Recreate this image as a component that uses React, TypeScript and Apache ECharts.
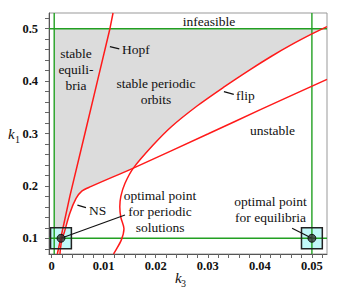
import React, { useEffect, useRef } from "react";
import * as echarts from "echarts";

// ---- data ----
const X_MIN = -0.0005;
const X_MAX = 0.0529;
const Y_MIN = 0.07;
const Y_MAX = 0.53;

const xTickLabels = [0, 0.01, 0.02, 0.03, 0.04, 0.05];
const yTickLabels = [0.1, 0.2, 0.3, 0.4, 0.5];
const xMinorStep = 0.002;
const yMinorStep = 0.02;

// Hopf boundary (k3, k1)
const hopf: number[][] = [
  [0.0011, 0.07], [0.0035, 0.18], [0.0064, 0.3], [0.0088, 0.4], [0.0112, 0.5], [0.0118, 0.53],
];
// Neimark–Sacker boundary
const ns: number[][] = [
  [0.0016, 0.07], [0.0017, 0.08], [0.002, 0.1], [0.0024, 0.11], [0.0035, 0.148],
  [0.0047, 0.176], [0.0058, 0.19], [0.0075, 0.1985], [0.0157, 0.234], [0.03, 0.299],
  [0.04, 0.345], [0.0529, 0.4034],
];
// flip boundary
const flip: number[][] = [
  [0.0119, 0.07], [0.0122, 0.075], [0.0134, 0.097], [0.0139, 0.118], [0.0133, 0.14],
  [0.0131, 0.16], [0.0133, 0.18], [0.0141, 0.205], [0.0157, 0.234], [0.0195, 0.278],
  [0.023, 0.313], [0.028, 0.353], [0.033, 0.388], [0.038, 0.421], [0.042, 0.446],
  [0.046, 0.469], [0.05, 0.49], [0.0529, 0.504],
];
// feasibility limits (green lines)
const limitK1 = [0.1, 0.5];
const limitK3 = [0.0005, 0.05];
// optimal points and their boxes
const optimalPoints: number[][] = [[0.0018, 0.1], [0.05, 0.1]];
const boxHalfK3 = 0.002;
const boxHalfK1 = 0.02;
const crossingK3 = 0.0157; // NS / flip crossing
const grayBottomK1 = 0.08;

// annotation leader lines
const leaders: number[][][] = [
  [[0.0018, 0.1], [0.0141, 0.1444]],
  [[0.05, 0.1], [0.0462, 0.119]],
  [[0.0112, 0.4658], [0.013, 0.4614]],
  [[0.0331, 0.3798], [0.035, 0.3748]],
  [[0.00496, 0.1632], [0.0066, 0.1584]],
];

const FONT = "'Liberation Serif', 'Times New Roman', serif";

function buildGray(): number[][] {
  const poly: number[][] = [[limitK3[0], 0.5], [limitK3[0], grayBottomK1]];
  ns.forEach((p) => { if (p[1] >= grayBottomK1 && p[0] <= crossingK3) poly.push(p); });
  for (let i = 0; i < flip.length; i++) {
    const p = flip[i];
    if (p[0] > crossingK3 && p[1] < 0.5) poly.push(p);
    if (i > 0 && flip[i - 1][1] < 0.5 && p[1] >= 0.5) {
      const a = flip[i - 1];
      const t = (0.5 - a[1]) / (p[1] - a[1]);
      poly.push([a[0] + t * (p[0] - a[0]), 0.5]);
    }
  }
  return poly;
}

function ticks(min: number, max: number, step: number): number[] {
  const out: number[] = [];
  const start = Math.ceil(min / step - 1e-9);
  for (let i = start; i * step <= max + 1e-12; i++) out.push(Math.round(i * step * 1e6) / 1e6);
  return out;
}

const texts = [
  { t: "infeasible", x: 209, y: 21, a: "center" },
  { t: "stable\nequili-\nbria", x: 76, y: 69.5, a: "center" },
  { t: "Hopf", x: 122, y: 49, a: "left" },
  { t: "stable periodic\norbits", x: 156, y: 91, a: "center" },
  { t: "flip", x: 236, y: 95.5, a: "left" },
  { t: "unstable", x: 272.5, y: 130.5, a: "center" },
  { t: "NS", x: 89, y: 210.5, a: "left" },
  { t: "optimal point\nfor periodic\nsolutions", x: 160, y: 211.5, a: "center" },
  { t: "optimal point\nfor equilibria", x: 270.5, y: 209, a: "center" },
];

export default function App() {
  const ref = useRef<HTMLDivElement>(null);
  useEffect(() => {
    document.body.style.margin = "0";
    if (!ref.current) return;
    const chart = echarts.init(ref.current, undefined, { renderer: "svg" });
    const gray = buildGray();
    const lineBase = { type: "line", symbol: "none", silent: true, animation: false };
    const series: any[] = [
      {
        type: "custom", z: 1, silent: true, data: [[0, 0.3]],
        renderItem: (_p: any, api: any) => ({
          type: "polygon",
          shape: { points: gray.map((p) => api.coord(p)) },
          style: { fill: "#dcdcdc" },
        }),
      },
      {
        type: "custom", z: 2, silent: true, data: optimalPoints,
        renderItem: (_p: any, api: any) => {
          const a = api.coord([api.value(0) - boxHalfK3, api.value(1) + boxHalfK1]);
          const b = api.coord([api.value(0) + boxHalfK3, api.value(1) - boxHalfK1]);
          return { type: "rect", shape: { x: a[0], y: a[1], width: b[0] - a[0], height: b[1] - a[1] }, style: { fill: "#c2f8f8" } };
        },
      },
      ...limitK1.map((v) => ({ ...lineBase, z: 3, data: [[X_MIN, v], [X_MAX, v]], lineStyle: { color: "#22a022", width: 1.4 } })),
      ...limitK3.map((v) => ({ ...lineBase, z: 3, data: [[v, Y_MIN], [v, Y_MAX]], lineStyle: { color: "#22a022", width: 1.4 } })),
      { ...lineBase, z: 4, data: hopf, lineStyle: { color: "#ff1a1a", width: 1.5 } },
      { ...lineBase, z: 4, data: ns, smooth: 0.3, lineStyle: { color: "#ff1a1a", width: 1.5 } },
      { ...lineBase, z: 4, data: flip, smooth: 0.3, lineStyle: { color: "#ff1a1a", width: 1.5 } },
      {
        type: "custom", z: 5, silent: true, data: optimalPoints,
        renderItem: (_p: any, api: any) => {
          const a = api.coord([api.value(0) - boxHalfK3, api.value(1) + boxHalfK1]);
          const b = api.coord([api.value(0) + boxHalfK3, api.value(1) - boxHalfK1]);
          return { type: "rect", shape: { x: a[0], y: a[1], width: b[0] - a[0], height: b[1] - a[1] }, style: { fill: "none", stroke: "#222", lineWidth: 1.5 } };
        },
      },
      ...leaders.map((seg) => ({ ...lineBase, z: 6, data: seg, lineStyle: { color: "#111", width: 1.2 } })),
      {
        type: "scatter", z: 7, silent: true, data: optimalPoints, symbolSize: 8,
        itemStyle: { color: "#333", borderColor: "#000", borderWidth: 1 },
      },
    ];
    chart.setOption({
      animation: false,
      grid: { left: 49, right: 14, top: 13, bottom: 37, containLabel: false, outerBoundsMode: "none", show: true, borderColor: "#999", borderWidth: 1 },
      xAxis: {
        type: "value", min: X_MIN, max: X_MAX,
        splitLine: { show: false },
        axisLine: { show: true, onZero: false, lineStyle: { color: "#555", width: 1 } },
        axisTick: { show: true, customValues: ticks(X_MIN, X_MAX, xMinorStep), length: 4, lineStyle: { color: "#666" } },
        axisLabel: {
          customValues: xTickLabels, margin: 5,
          formatter: (v: number) => (v === 0 ? "0" : String(v)),
          fontFamily: FONT, fontWeight: "bold", fontSize: 12.5, color: "#111",
        },
      },
      yAxis: {
        type: "value", min: Y_MIN, max: Y_MAX,
        splitLine: { show: false },
        axisLine: { show: true, onZero: false, lineStyle: { color: "#555", width: 1 } },
        axisTick: { show: true, customValues: ticks(Y_MIN, Y_MAX, yMinorStep), length: 4, lineStyle: { color: "#666" } },
        axisLabel: {
          customValues: yTickLabels, margin: 11,
          formatter: (v: number) => String(v),
          fontFamily: FONT, fontWeight: "bold", fontSize: 12.5, color: "#111",
        },
      },
      graphic: [
        ...texts.map((d) => ({
          type: "text", x: d.x, y: d.y, silent: true, z: 100,
          style: { text: d.t, textAlign: d.a, textVerticalAlign: "middle", font: `13.5px ${FONT}`, lineHeight: 16, fill: "#111" },
        })),
        { type: "text", x: 175, y: 278, style: { text: "k", textAlign: "left", textVerticalAlign: "middle", font: `italic 15px ${FONT}`, fill: "#111" } },
        { type: "text", x: 181, y: 283, style: { text: "3", textAlign: "left", textVerticalAlign: "middle", font: `10px ${FONT}`, fill: "#111" } },
        { type: "text", x: 8, y: 134, style: { text: "k", textAlign: "left", textVerticalAlign: "middle", font: `italic 15px ${FONT}`, fill: "#111" } },
        { type: "text", x: 15, y: 139, style: { text: "1", textAlign: "left", textVerticalAlign: "middle", font: `10px ${FONT}`, fill: "#111" } },
      ],
      series,
    });
    return () => chart.dispose();
  }, []);
  return <div ref={ref} style={{ width: 341, height: 291 }} />;
}
